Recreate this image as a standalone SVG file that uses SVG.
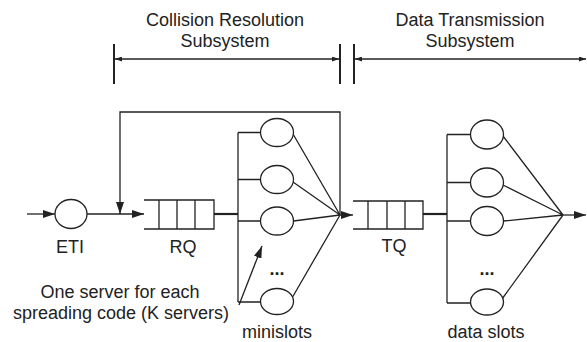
<svg xmlns="http://www.w3.org/2000/svg" width="587" height="342" viewBox="0 0 587 342">
<style>
text{font-family:"Liberation Sans",Arial,sans-serif;font-size:18px;fill:#222;text-anchor:middle}
.ln{fill:none;stroke:#222;stroke-width:1.3}
.thick{fill:none;stroke:#222;stroke-width:2.2}
.tick{fill:none;stroke:#222;stroke-width:2}
.srv{fill:#fff;stroke:#222;stroke-width:1.3}
.dots{font-weight:bold}
</style>
<defs>
<marker id="arr" markerUnits="userSpaceOnUse" markerWidth="12" markerHeight="8" refX="12" refY="4" orient="auto"><path d="M0,0 L12,4 L0,8 z" fill="#222"/></marker>
<marker id="dim" markerUnits="userSpaceOnUse" markerWidth="7" markerHeight="5" refX="7" refY="2.5" orient="auto-start-reverse"><path d="M0,0 L7,2.5 L0,5 z" fill="#222"/></marker>
</defs>

<g id="labels-top">
<text x="225" y="26">Collision Resolution</text>
<text x="225" y="47">Subsystem</text>
<text x="470" y="26">Data Transmission</text>
<text x="470" y="47">Subsystem</text>
<line class="tick" x1="114" y1="44" x2="114" y2="84"/>
<line class="tick" x1="340" y1="44" x2="340" y2="84"/>
<line class="tick" x1="354" y1="44" x2="354" y2="84"/>
<line class="ln" x1="115" y1="59" x2="339" y2="59" marker-start="url(#dim)" marker-end="url(#dim)"/>
<line class="ln" x1="355" y1="59" x2="586" y2="59" marker-start="url(#dim)" marker-end="url(#dim)"/>
</g>

<g id="connectors">
<line class="ln" x1="27" y1="214" x2="55" y2="214" marker-end="url(#arr)"/>
<line class="ln" x1="87" y1="214" x2="144" y2="214" marker-end="url(#arr)"/>
<path class="ln" d="M340,215 V112 H120 V214" marker-end="url(#arr)"/>
<line class="thick" x1="214" y1="214" x2="238" y2="214"/>
<path class="ln" d="M238,132.5 V302"/>
<path class="ln" d="M238,132.5 H261 M238,179.5 H261 M238,221 H261 M238,302 H261"/>
<path class="ln" d="M293,134 L340,215 M293,182 L340,215 M293.5,221 L340,215 M292,298 L340,215"/>
<line class="ln" x1="339" y1="215" x2="353" y2="215" marker-end="url(#arr)"/>
<line class="thick" x1="423" y1="214" x2="447" y2="214"/>
<path class="ln" d="M447,134.5 V303"/>
<path class="ln" d="M447,134.5 H471 M447,182.5 H471 M447,221 H471 M447,303 H471"/>
<path class="ln" d="M503,136 L563,215 M503,185 L563,215 M503.5,221 L563,215 M502,299 L563,215"/>
<line class="ln" x1="562" y1="215" x2="586" y2="215" marker-end="url(#arr)"/>
<line class="ln" x1="239" y1="305" x2="262" y2="246" marker-end="url(#arr)"/>
</g>

<g id="ETI">
<ellipse class="srv" cx="71" cy="214" rx="16" ry="14.5"/>
<text x="70" y="253">ETI</text>
</g>

<g id="RQ">
<path class="ln" d="M144,200 H214 V229 H144 M159,200 V229 M177,200 V229 M195,200 V229"/>
<text x="183" y="253">RQ</text>
</g>

<g id="minislots">
<ellipse class="srv" cx="277" cy="132.5" rx="16.5" ry="14"/>
<ellipse class="srv" cx="277" cy="179.5" rx="16.5" ry="14"/>
<ellipse class="srv" cx="277" cy="221" rx="16.5" ry="14"/>
<ellipse class="srv" cx="277" cy="301.5" rx="16.5" ry="13"/>
<text class="dots" x="277" y="275">...</text>
<text x="277" y="338">minislots</text>
</g>

<g id="note">
<text x="120" y="298">One server for each</text>
<text x="121" y="319">spreading code (K servers)</text>
</g>

<g id="TQ">
<path class="ln" d="M353,201 H423 V229 H353 M368,201 V229 M387,201 V229 M405,201 V229"/>
<text x="394" y="252">TQ</text>
</g>

<g id="dataslots">
<ellipse class="srv" cx="487" cy="134.5" rx="16.5" ry="14.5"/>
<ellipse class="srv" cx="487" cy="182.5" rx="16.5" ry="14.5"/>
<ellipse class="srv" cx="487" cy="221" rx="16.5" ry="14.5"/>
<ellipse class="srv" cx="487" cy="302" rx="16.5" ry="13"/>
<text class="dots" x="487" y="275">...</text>
<text x="486" y="338">data slots</text>
</g>
</svg>
